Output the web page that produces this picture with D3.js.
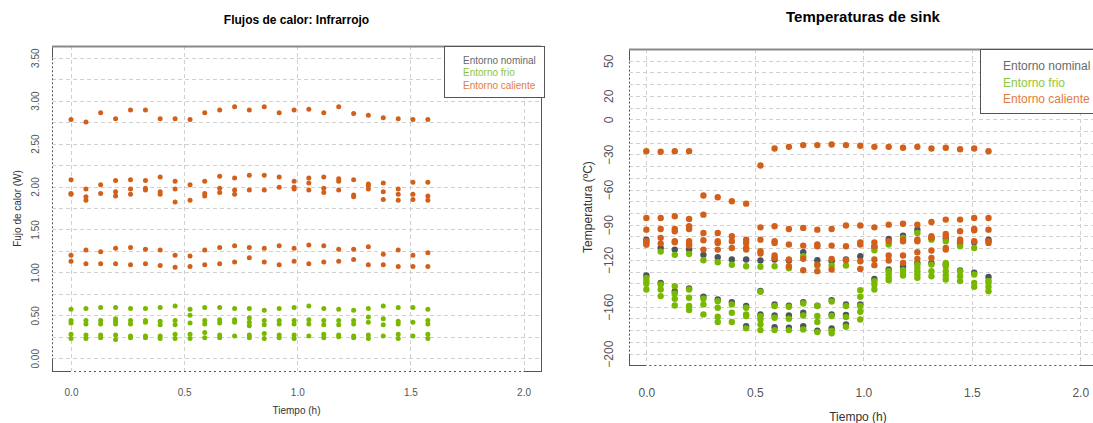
<!DOCTYPE html>
<html>
<head>
<meta charset="utf-8">
<script src="https://cdn.jsdelivr.net/npm/d3@7"></script>
<style>
  html, body { margin: 0; padding: 0; background: #fff; }
  svg { display: block; font-family: "Liberation Sans", Arial, sans-serif; }
</style>
</head>
<body>
<svg id="chart" width="1093" height="423"></svg>
<script>
// Sampling instants (h), shared by both panels
const times = [0, 0.066, 0.131, 0.197, 0.263, 0.329, 0.394, 0.460, 0.526, 0.591, 0.657, 0.723,
  0.788, 0.854, 0.920, 0.986, 1.051, 1.117, 1.183, 1.249, 1.314, 1.380, 1.446, 1.511, 1.577];

const seriesNames = ["Entorno nominal", "Entorno frio", "Entorno caliente"];
const seriesColors = ["#4d535c", "#79b800", "#d2601a"];
const legendColors = ["#6a6a6a", "#8cc63f", "#df7d40"];

// Infrared heat flux (W), one list of readings per sampling instant
const fluxHot = [
  [2.78, 2.08, 1.92, 1.91, 1.20, 1.13], [2.75, 1.97, 1.88, 1.84, 1.26, 1.10],
  [2.86, 2.02, 1.92, 1.24, 1.10], [2.79, 2.07, 1.94, 1.89, 1.28, 1.10],
  [2.89, 2.08, 1.97, 1.91, 1.29, 1.09], [2.89, 2.07, 1.98, 1.96, 1.27, 1.10],
  [2.79, 2.11, 1.94, 1.91, 1.26, 1.08], [2.79, 2.06, 1.97, 1.82, 1.20, 1.06],
  [2.78, 2.02, 1.84, 1.19, 1.07], [2.86, 2.06, 1.92, 1.89, 1.26, 1.09],
  [2.89, 2.12, 1.98, 1.93, 1.29, 1.10], [2.93, 2.10, 1.96, 1.91, 1.31, 1.12],
  [2.89, 2.13, 1.96, 1.29, 1.17], [2.93, 2.13, 1.96, 1.28, 1.12],
  [2.86, 2.11, 1.99, 1.31, 1.09], [2.89, 2.06, 1.99, 1.97, 1.28, 1.13],
  [2.90, 2.10, 2.04, 1.96, 1.32, 1.10], [2.86, 2.11, 1.98, 1.93, 1.31, 1.12],
  [2.93, 2.09, 2.06, 1.96, 1.27, 1.13], [2.85, 2.08, 1.90, 1.88, 1.27, 1.15],
  [2.83, 2.03, 2.01, 1.97, 1.30, 1.09], [2.80, 2.04, 1.94, 1.85, 1.21, 1.09],
  [2.79, 1.97, 1.91, 1.84, 1.26, 1.07], [2.78, 2.05, 1.91, 1.85, 1.20, 1.07],
  [2.78, 2.05, 1.89, 1.84, 1.23, 1.07]
];
const fluxCold = [
  [0.57, 0.44, 0.41, 0.28, 0.23], [0.58, 0.44, 0.40, 0.27, 0.23],
  [0.59, 0.44, 0.40, 0.27, 0.24], [0.59, 0.46, 0.43, 0.40, 0.27, 0.22],
  [0.58, 0.44, 0.40, 0.26, 0.24], [0.58, 0.44, 0.42, 0.26, 0.24],
  [0.59, 0.43, 0.39, 0.26, 0.23], [0.61, 0.44, 0.39, 0.28, 0.23],
  [0.57, 0.50, 0.41, 0.28, 0.23], [0.59, 0.44, 0.40, 0.30, 0.24],
  [0.59, 0.45, 0.41, 0.27, 0.24], [0.58, 0.45, 0.42, 0.26],
  [0.58, 0.47, 0.42, 0.38, 0.27, 0.24], [0.56, 0.44, 0.39, 0.29, 0.23],
  [0.58, 0.44, 0.40, 0.27, 0.24], [0.59, 0.44, 0.40, 0.27, 0.23],
  [0.61, 0.45, 0.40, 0.26], [0.58, 0.44, 0.39, 0.28, 0.24],
  [0.57, 0.44, 0.39, 0.27, 0.25], [0.56, 0.44, 0.40, 0.26, 0.24],
  [0.58, 0.48, 0.42, 0.27, 0.23], [0.61, 0.46, 0.39, 0.26],
  [0.59, 0.43, 0.40, 0.28, 0.23], [0.59, 0.42, 0.26],
  [0.57, 0.44, 0.40, 0.28, 0.23]
];
const fluxNominal = times.map(() => []);

// Sink temperatures (ºC), one list of readings per sampling instant
const sinkHot = [
  [-27.2, -84.2, -94.2, -104, -105.5, -107], [-27.7, -84.2, -93.6, -101.2, -106.1],
  [-27.2, -82.8, -93.6, -95.6, -104.1, -105], [-27.2, -85.1, -91.3, -93.6, -104.1, -106.1, -107.8],
  [-65, -81.4, -97, -103.2, -111.2], [-66.5, -97, -104.1, -105.5, -111.2],
  [-70, -99.8, -104.1, -109.8], [-72, -102.7, -105.5, -109.8, -111.2],
  [-39.4, -92.2, -102.7, -112.6, -114.6], [-24.9, -91.3, -104.1, -105.5, -116.3, -118.3],
  [-23.5, -93.6, -106.9, -119.7, -125.4], [-22, -92.7, -107.8, -119.1, -128.8],
  [-22, -94.2, -106.9, -108.3, -124, -129.6], [-21.5, -93.6, -107.8, -119.1, -128.2],
  [-22, -90.7, -108.3, -120.3], [-22.6, -90.7, -105, -106.9, -121.1, -127.7],
  [-23.5, -92.2, -105, -108.3, -119.7, -124.5], [-23.5, -89.9, -104.1, -116.3, -120.5],
  [-24.3, -89.1, -102.7, -104.1, -116.3, -122.5], [-23.5, -89.9, -102.7, -104.1, -113.5, -119.1],
  [-24.9, -87.6, -99.8, -101.2, -112, -118.3], [-24.3, -85.6, -97.8, -99.8, -109.8, -111.2],
  [-25.5, -85.6, -95.6, -102.7, -104.1], [-24.9, -84.2, -93.6, -94.7, -104.1],
  [-27.2, -84.2, -94.2, -104.1, -105.5]
];
const sinkNominal = [
  [-102.7, -133.3], [-109.8, -139.6], [-111.2, -147], [-111.2, -144.4],
  [-115.7, -151.5], [-117.7, -153.8], [-119.7, -156], [-119.7, -159.4, -176.5],
  [-120.5, -146.5, -166.5], [-119.7, -158, -167.4, -177.5], [-120.5, -159, -167.4, -177.9],
  [-113.5, -156, -165.1, -176.5], [-120.3, -159, -180.5], [-121.1, -154.3, -166.5, -178.5],
  [-119.7, -158, -167, -175], [-116.9, -158], [-108.9, -136.2], [-102.1, -128.2],
  [-99.3, -125.9], [-94.2, -122.5], [-101.2, -122.5], [-102, -124],
  [-106, -129.1], [-105, -131], [-102.7, -134.5]
];
const sinkCold = [
  [-135.3, -138, -140.4, -145.2], [-112.9, -141, -145.2, -150.9],
  [-115.7, -142.4, -148.6, -153.2, -158.9], [-114.9, -145.2, -152.3, -159.4, -162.8],
  [-120.3, -153.2, -158, -166.5], [-122, -155.2, -160.8, -168.5, -173],
  [-124.2, -158, -165.1, -173], [-125.4, -160.8, -166.5, -167.9, -178.4],
  [-125.9, -147.2, -168, -170.8, -175, -179.9], [-125.4, -159.4, -169.4, -179.9],
  [-127.1, -160, -170.2, -179.9], [-116.9, -157.2, -167.4, -179.3],
  [-124.8, -159.4, -167.9, -173, -181.6], [-124.8, -155.5, -167.9, -180.7, -182.7],
  [-124.8, -159.4, -168.8, -177], [-145.8, -151.5, -159.4, -164.3, -170.8],
  [-111.8, -138.1, -141, -145.2], [-106.9, -129.6, -132.5, -135.3, -137.3],
  [-101.2, -128.8, -131.1, -133.3], [-97, -124, -126.8, -129.6, -132.5, -135.3],
  [-102.7, -124, -129.6, -133.9], [-104.1, -122.5, -125.4, -129.6, -133.3, -136.7],
  [-108.3, -129.6, -133.9, -138.1], [-109.8, -132.5, -139.6, -143],
  [-137.9, -139.6, -143, -146.7]
];

// Axis tick values and labels
const xTicks = [0, 0.5, 1.0, 1.5, 2.0];
const fluxYLabels = [0, 0.5, 1.0, 1.5, 2.0, 2.5, 3.0, 3.5];
const fluxGrid = [0, 0.25, 0.5, 0.75, 1, 1.25, 1.5, 1.75, 2, 2.25, 2.5, 2.75, 3, 3.25, 3.5];
const sinkYLabels = [50, 20, 0, -30, -60, -90, -120, -160, -200];
const sinkGrid = d3.range(-200, 51, 10);

const svg = d3.select("#chart");

function flatten(groups) {
  const out = [];
  groups.forEach((vals, i) => vals.forEach(v => out.push({ t: times[i], v })));
  return out;
}

function panel(cfg) {
  const x = d3.scaleLinear().domain(cfg.xDomain).range([cfg.left, cfg.right]);
  const y = d3.scaleLinear().domain(cfg.yDomain).range([cfg.bottom, cfg.top]);
  const g = svg.append("g");
  const clipId = "clip" + cfg.id;
  svg.append("clipPath").attr("id", clipId).append("rect")
    .attr("x", cfg.left).attr("y", cfg.top)
    .attr("width", cfg.right - cfg.left).attr("height", cfg.bottom - cfg.top);

  // grid
  const grid = g.append("g").attr("stroke", "#d0d0d0").attr("stroke-width", 1)
    .attr("stroke-dasharray", "4,3").attr("clip-path", `url(#${clipId})`);
  grid.selectAll("line.h").data(cfg.grid).join("line")
    .attr("x1", cfg.left).attr("x2", cfg.right)
    .attr("y1", d => Math.round(y(d)) + 0.5).attr("y2", d => Math.round(y(d)) + 0.5);
  grid.selectAll("line.v").data(xTicks).join("line")
    .attr("y1", cfg.top).attr("y2", cfg.bottom)
    .attr("x1", d => Math.round(x(d)) + 0.5).attr("x2", d => Math.round(x(d)) + 0.5);

  // points: nominal, cold, hot
  const pts = g.append("g").attr("clip-path", `url(#${clipId})`);
  cfg.series.forEach((s, k) => {
    pts.append("g").selectAll("circle").data(flatten(s)).join("circle")
      .attr("cx", d => x(d.t)).attr("cy", d => y(d.v)).attr("r", cfg.r)
      .attr("fill", seriesColors[k]);
  });

  // frame
  g.append("rect").attr("x", cfg.left + 0.5).attr("y", cfg.top + 0.5)
    .attr("width", cfg.right - cfg.left).attr("height", cfg.bottom - cfg.top)
    .attr("fill", "none").attr("stroke", "#555").attr("stroke-width", 1);
  g.append("line").attr("x1", cfg.left).attr("x2", cfg.right)
    .attr("y1", cfg.top + 0.5).attr("y2", cfg.top + 0.5)
    .attr("stroke", "#8a8a8a").attr("stroke-width", 2);
  // dotted axis lines over the frame between first and last tick
  const yEnds = d3.extent(cfg.yTicks);
  g.append("line").attr("x1", cfg.left + 0.5).attr("x2", cfg.left + 0.5)
    .attr("y1", y(yEnds[0])).attr("y2", y(yEnds[1]))
    .attr("stroke", "#fff").attr("stroke-dasharray", "2,2");
  g.append("line").attr("y1", cfg.bottom + 0.5).attr("y2", cfg.bottom + 0.5)
    .attr("x1", x(0)).attr("x2", x(2))
    .attr("stroke", "#fff").attr("stroke-dasharray", "3,2");

  // axes (labels only)
  const xAxis = g.append("g").attr("transform", `translate(0,${cfg.bottom})`)
    .call(d3.axisBottom(x).tickValues(xTicks).tickFormat(d3.format(".1f")).tickSize(0));
  xAxis.select(".domain").remove();
  xAxis.selectAll("text").attr("y", cfg.xLabelY - cfg.bottom).attr("dy", "0.35em")
    .attr("fill", "#555").style("font-size", cfg.tickFont + "px")
    .style("font-family", "Liberation Sans, Arial, sans-serif");

  const yAxis = g.append("g").attr("transform", `translate(${cfg.left},0)`)
    .call(d3.axisLeft(y).tickValues(cfg.yTicks).tickFormat(cfg.yFormat).tickSize(0));
  yAxis.select(".domain").remove();
  yAxis.selectAll("text").attr("transform", "rotate(-90)")
    .attr("x", 0).attr("y", -cfg.yLabelOffset).attr("dy", "0.35em")
    .attr("text-anchor", "middle")
    .attr("fill", "#555").style("font-size", cfg.tickFont + "px")
    .style("font-family", "Liberation Sans, Arial, sans-serif");

  // titles
  const cx = (cfg.left + cfg.right) / 2;
  g.append("text").attr("x", cx).attr("y", cfg.titleY).attr("text-anchor", "middle")
    .attr("font-weight", "bold").attr("font-size", cfg.titleFont).attr("fill", "#000")
    .text(cfg.title);
  g.append("text").attr("x", cfg.xTitleX || cx).attr("y", cfg.xTitleY).attr("text-anchor", "middle")
    .attr("dy", "0.35em").attr("font-size", cfg.axisFont).attr("fill", "#333").text(cfg.xTitle);
  g.append("text").attr("transform", `translate(${cfg.yTitleX},${(cfg.top + cfg.bottom) / 2}) rotate(-90)`)
    .attr("text-anchor", "middle").attr("dy", "0.35em")
    .attr("font-size", cfg.axisFont).attr("fill", "#333").text(cfg.yTitle);

  // legend
  const lg = g.append("g");
  lg.append("rect").attr("x", cfg.legend.x + 0.5).attr("y", cfg.top + 0.5)
    .attr("width", cfg.legend.w).attr("height", cfg.legend.h)
    .attr("fill", "#fff").attr("stroke", "#555");
  seriesNames.forEach((name, k) => {
    lg.append("text").attr("x", cfg.legend.tx).attr("y", cfg.legend.ty + k * cfg.legend.dy)
      .attr("dy", "0.35em").attr("font-size", cfg.legend.font).attr("fill", legendColors[k])
      .text(name);
  });
}

panel({
  id: "flux", left: 52, right: 541, top: 46, bottom: 371,
  xDomain: [-0.084, 2.077], yDomain: [-0.148, 3.636],
  grid: fluxGrid, yTicks: fluxYLabels, yFormat: d3.format(".2f"),
  series: [fluxNominal, fluxCold, fluxHot], r: 2.5,
  tickFont: 10, xLabelY: 392, yLabelOffset: 17,
  title: "Flujos de calor: Infrarrojo", titleY: 24, titleFont: 12,
  xTitle: "Tiempo (h)", xTitleY: 410.5, yTitle: "Fujo de calor (W)", yTitleX: 17, axisFont: 10,
  legend: { x: 444, w: 100, h: 51, tx: 463, ty: 60, dy: 12.5, font: 10 }
});

panel({
  id: "sink", left: 629, right: 1097, top: 49, bottom: 365,
  xDomain: [-0.080, 2.077], yDomain: [-209.7, 60],
  grid: sinkGrid, yTicks: sinkYLabels, yFormat: d3.format("d"),
  series: [sinkNominal, sinkCold, sinkHot], r: 3.2,
  tickFont: 12, xLabelY: 392.5, yLabelOffset: 20,
  title: "Temperaturas de sink", titleY: 22, titleFont: 15,
  xTitle: "Tiempo (h)", xTitleX: 858, xTitleY: 416.5, yTitle: "Temperatura (ºC)", yTitleX: 588, axisFont: 12,
  legend: { x: 980, w: 120, h: 64, tx: 1003, ty: 66, dy: 16.3, font: 12 }
});
</script>
</body>
</html>
